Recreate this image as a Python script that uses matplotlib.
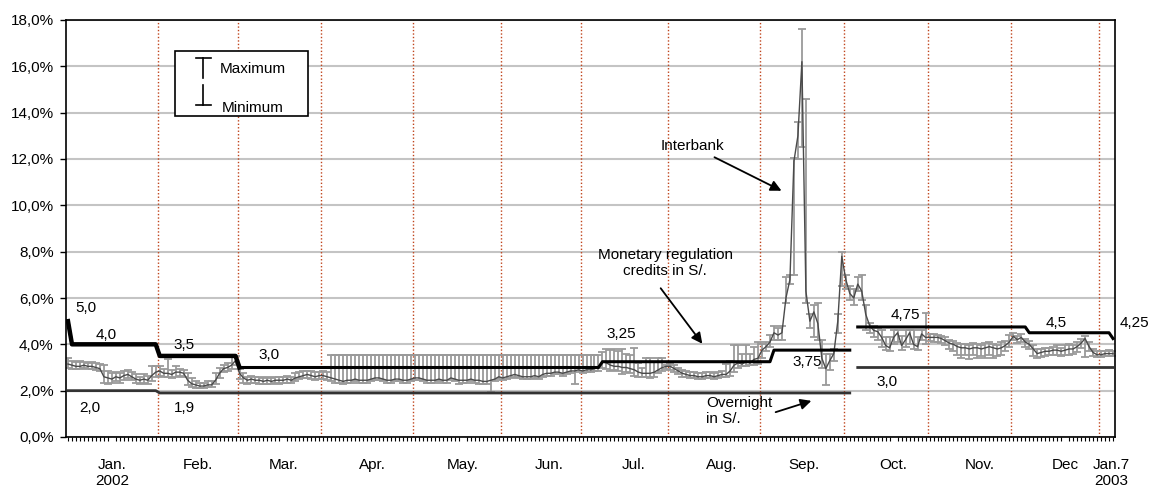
import numpy as np
import matplotlib

matplotlib.use("Agg")
import matplotlib.pyplot as plt
from matplotlib.patches import Rectangle
from matplotlib.lines import Line2D

plt.rcParams["font.family"] = ["Liberation Sans", "DejaVu Sans"]

# Interbank rate, daily: mean / maximum / minimum (%), one list per month
jan_mean = [3.15, 3.10, 3.05, 3.05, 3.10, 3.05, 3.05, 3.00, 2.95, 2.60, 2.55, 2.50, 2.60, 2.55, 2.65,
            2.70, 2.60, 2.50, 2.45, 2.50, 2.45, 2.65, 2.80]
jan_max = [3.40, 3.30, 3.25, 3.30, 3.25, 3.20, 3.25, 3.20, 3.15, 3.10, 2.85, 2.75, 2.80, 2.75, 2.85,
           2.90, 2.80, 2.70, 2.60, 2.70, 2.65, 3.05, 3.05]
jan_min = [3.00, 2.95, 2.95, 2.95, 3.00, 2.95, 2.95, 2.90, 2.85, 2.35, 2.30, 2.35, 2.40, 2.35, 2.45,
           2.55, 2.45, 2.35, 2.30, 2.35, 2.30, 2.40, 2.60]

feb_mean = [2.85, 2.75, 2.75, 2.70, 2.80, 2.80, 2.75, 2.45, 2.30, 2.25,
            2.20, 2.20, 2.25, 2.25, 2.45, 2.75, 2.95, 3.00, 3.10, 3.30]
feb_max = [3.05, 2.95, 3.35, 2.90, 3.05, 2.95, 2.90, 2.75, 2.55, 2.40,
           2.35, 2.35, 2.40, 2.40, 2.75, 3.00, 3.10, 3.20, 3.45, 3.50]
feb_min = [2.65, 2.60, 2.60, 2.55, 2.60, 2.65, 2.60, 2.25, 2.15, 2.10,
           2.10, 2.10, 2.15, 2.15, 2.30, 2.55, 2.80, 2.85, 2.95, 3.10]

mar_mean = [2.75, 2.55, 2.45, 2.50, 2.45, 2.45, 2.40, 2.45, 2.40, 2.45,
            2.45, 2.45, 2.50, 2.45, 2.55, 2.60, 2.65, 2.70, 2.65, 2.60, 2.65]
mar_max = [2.95, 2.75, 2.60, 2.65, 2.60, 2.60, 2.55, 2.60, 2.55, 2.60,
           2.60, 2.60, 2.65, 2.60, 2.75, 2.80, 2.85, 2.85, 2.85, 2.80, 2.80]
mar_min = [2.50, 2.35, 2.30, 2.35, 2.35, 2.30, 2.30, 2.30, 2.30, 2.35,
           2.30, 2.35, 2.35, 2.35, 2.40, 2.50, 2.55, 2.55, 2.50, 2.45, 2.50]

apr_mean = [2.65, 2.60, 2.55, 2.50, 2.45, 2.40, 2.45, 2.45, 2.50, 2.45,
            2.45, 2.45, 2.50, 2.55, 2.55, 2.50, 2.45, 2.45, 2.50, 2.50, 2.45, 2.45, 2.50]
apr_max = [2.85, 2.80, 3.55, 3.55, 3.55, 3.55, 3.55, 3.55, 3.55, 3.55,
           3.55, 3.55, 3.55, 3.55, 3.55, 3.55, 3.55, 3.55, 3.55, 3.55, 3.55, 3.55, 3.55]
apr_min = [2.50, 2.45, 2.40, 2.35, 2.35, 2.30, 2.35, 2.35, 2.40, 2.35,
           2.35, 2.35, 2.40, 2.45, 2.45, 2.40, 2.35, 2.35, 2.40, 2.40, 2.35, 2.35, 2.40]

may_mean = [2.55, 2.55, 2.50, 2.45, 2.45, 2.45, 2.50, 2.45, 2.45, 2.55,
            2.50, 2.45, 2.45, 2.45, 2.50, 2.45, 2.45, 2.40, 2.40, 2.45, 2.50, 2.60]
may_max = [3.55, 3.55, 3.55, 3.55, 3.55, 3.55, 3.55, 3.55, 3.55, 3.55,
           3.55, 3.55, 3.55, 3.55, 3.55, 3.55, 3.55, 3.55, 3.55, 3.55, 3.55, 3.55]
may_min = [2.45, 2.45, 2.40, 2.35, 2.35, 2.35, 2.40, 2.35, 2.35, 2.45,
           2.40, 2.30, 2.35, 2.35, 2.40, 2.35, 2.30, 2.30, 2.30, 1.95, 2.40, 2.50]

jun_mean = [2.55, 2.60, 2.65, 2.70, 2.65, 2.60, 2.60, 2.60, 2.65, 2.60,
            2.70, 2.75, 2.75, 2.80, 2.80, 2.75, 2.80, 2.85, 2.85, 2.90]
jun_max = [3.55, 3.55, 3.55, 3.55, 3.55, 3.55, 3.55, 3.55, 3.55, 3.55,
           3.55, 3.55, 3.55, 3.55, 3.55, 3.55, 3.55, 3.55, 3.55, 3.55]
jun_min = [2.45, 2.50, 2.55, 2.60, 2.55, 2.50, 2.50, 2.50, 2.55, 2.50,
           2.60, 2.65, 2.65, 2.70, 2.70, 2.65, 2.70, 2.75, 2.30, 2.80]

jul_mean = [2.85, 2.90, 2.90, 2.95, 3.00, 3.25, 3.20, 3.10, 3.05, 3.05,
            3.00, 3.00, 2.95, 2.90, 2.80, 2.75, 2.75, 2.75, 2.80, 2.90, 3.00, 3.05]
jul_max = [3.55, 3.55, 3.55, 3.55, 3.55, 3.65, 3.80, 3.75, 3.80, 3.70,
           3.80, 3.60, 3.55, 3.85, 3.20, 3.00, 3.40, 3.40, 3.25, 3.40, 3.40, 3.10]
jul_min = [2.75, 2.80, 2.80, 2.85, 2.85, 3.00, 2.95, 2.85, 2.90, 2.85,
           2.70, 2.80, 2.75, 2.65, 2.60, 2.60, 2.60, 2.55, 2.60, 2.75, 2.85, 2.95]

aug_mean = [3.05, 2.95, 2.85, 2.75, 2.70, 2.65, 2.65, 2.60, 2.60, 2.65,
            2.65, 2.60, 2.65, 2.70, 2.70, 2.85, 3.10, 3.20, 3.15, 3.25, 3.20, 3.35, 3.40]
aug_max = [3.20, 3.10, 3.00, 2.90, 2.85, 2.80, 2.80, 2.75, 2.75, 2.80,
           2.80, 2.75, 2.80, 2.85, 3.15, 3.30, 3.95, 3.95, 3.60, 3.95, 3.60, 3.90, 4.10]
aug_min = [2.90, 2.80, 2.70, 2.60, 2.60, 2.55, 2.55, 2.50, 2.50, 2.55,
           2.55, 2.50, 2.55, 2.60, 2.60, 2.65, 2.80, 3.00, 3.05, 3.05, 3.10, 3.10, 3.15]

sep_mean = [3.75, 3.90, 4.10, 4.50, 4.40, 4.50, 6.00, 6.80, 11.90, 13.00,
            16.20, 6.30, 5.00, 5.40, 4.90, 3.40, 2.95, 3.30, 3.60, 5.00, 7.80]
sep_max = [4.00, 4.10, 4.40, 4.80, 4.70, 4.80, 6.90, 7.00, 12.05, 13.60,
           17.60, 14.60, 5.30, 5.70, 5.80, 4.20, 3.60, 3.60, 3.80, 5.30, 8.00]
sep_min = [3.40, 3.70, 3.90, 4.20, 4.20, 4.20, 5.80, 6.60, 7.00, 12.00,
           12.50, 5.80, 4.70, 4.30, 4.20, 3.00, 2.25, 2.90, 3.30, 4.50, 6.50]

oct_mean = [6.80, 6.20, 6.00, 6.60, 6.30, 5.30, 4.80, 4.60, 4.55, 4.30,
            3.95, 3.85, 4.30, 4.50, 3.95, 4.20, 4.50, 4.00, 3.90, 4.45, 4.30]
oct_max = [7.00, 6.50, 6.40, 6.90, 7.00, 5.70, 4.90, 4.80, 4.70, 4.60,
           4.30, 4.30, 4.60, 4.60, 4.35, 4.60, 4.60, 4.60, 4.30, 4.60, 5.35]
oct_min = [6.40, 5.90, 5.70, 6.30, 5.90, 4.60, 4.50, 4.30, 4.20, 3.90,
           3.75, 3.70, 4.00, 4.10, 3.75, 3.90, 4.00, 3.80, 3.75, 4.20, 4.00]

nov_mean = [4.30, 4.30, 4.30, 4.25, 4.15, 4.05, 4.00, 3.90, 3.85, 3.85,
            3.80, 3.85, 3.85, 3.80, 3.85, 3.90, 3.85, 3.80, 3.85, 3.95, 4.10]
nov_max = [4.45, 4.45, 4.40, 4.35, 4.30, 4.20, 4.15, 4.05, 4.00, 4.00,
           3.95, 4.05, 4.00, 3.95, 4.05, 4.10, 4.00, 3.95, 4.10, 4.15, 4.40]
nov_min = [4.15, 4.10, 4.10, 4.05, 3.95, 3.80, 3.70, 3.55, 3.40, 3.55,
           3.35, 3.55, 3.40, 3.50, 3.40, 3.55, 3.40, 3.50, 3.55, 3.70, 3.90]

dec_mean = [4.35, 4.20, 4.30, 4.10, 4.00, 3.80, 3.60, 3.65, 3.70, 3.70,
            3.75, 3.75, 3.70, 3.75, 3.80, 3.80, 3.90, 4.05, 4.25, 3.90, 3.65, 3.55]
dec_max = [4.50, 4.35, 4.45, 4.25, 4.15, 3.95, 3.80, 3.80, 3.85, 3.85,
           3.90, 3.95, 3.85, 3.95, 4.00, 3.95, 4.10, 4.25, 4.35, 4.10, 3.80, 3.70]
dec_min = [4.20, 4.05, 4.10, 3.90, 3.80, 3.50, 3.40, 3.45, 3.50, 3.55,
           3.55, 3.55, 3.50, 3.55, 3.55, 3.60, 3.65, 3.85, 3.45, 3.70, 3.50, 3.45]

jan03_mean = [3.55, 3.60, 3.60, 3.60]
jan03_max = [3.70, 3.70, 3.75, 3.70]
jan03_min = [3.45, 3.50, 3.50, 3.50]

month_labels = ["Jan.\n2002", "Feb.", "Mar.", "Apr.", "May.", "Jun.", "Jul.",
                "Aug.", "Sep.", "Oct.", "Nov.", "Dec"]
last_label = "Jan.7\n2003"

# Policy rates (step lines): day index where each level starts
mr_start_day = [0, 1, 23, 43, 134, 177, 198, 241, 262]
mr_level = [5.0, 4.0, 3.5, 3.0, 3.25, 3.75, 4.75, 4.5, 4.25]
ov_start_day = [0, 23, 198]
ov_level = [2.0, 1.9, 3.0]
rate_gap_day = 197

means = [jan_mean, feb_mean, mar_mean, apr_mean, may_mean, jun_mean, jul_mean,
         aug_mean, sep_mean, oct_mean, nov_mean, dec_mean, jan03_mean]
maxs = [jan_max, feb_max, mar_max, apr_max, may_max, jun_max, jul_max,
        aug_max, sep_max, oct_max, nov_max, dec_max, jan03_max]
mins = [jan_min, feb_min, mar_min, apr_min, may_min, jun_min, jul_min,
        aug_min, sep_min, oct_min, nov_min, dec_min, jan03_min]

ib_mean = np.concatenate(means)
ib_max = np.concatenate(maxs)
ib_min = np.concatenate(mins)
n = len(ib_mean)
x = np.arange(n)
bounds = np.cumsum([len(m) for m in means])
starts = np.concatenate([[0], bounds[:-1]])


def step_series(start_days, levels):
    s = np.full(n, np.nan)
    ends = list(start_days[1:]) + [n]
    for a, b, v in zip(start_days, ends, levels):
        s[a:b] = v
    s[rate_gap_day] = np.nan
    return s


mr = step_series(mr_start_day, mr_level)
ov = step_series(ov_start_day, ov_level)

W, H = 1150, 486
fig = plt.figure(figsize=(W / 100, H / 100), dpi=100)
ax = fig.add_axes([66 / W, 1 - 437 / H, (1115 - 66) / W, (437 - 20) / H])


def fx(px):
    return px / W


def fy(py):
    return 1 - py / H


ax.set_xlim(-0.5, n - 0.5)
ax.set_ylim(0, 18)
ax.set_yticks(np.arange(0, 19, 2))
ax.set_yticklabels([f"{v:.1f}%".replace(".", ",") for v in np.arange(0, 19, 2)])
ax.grid(axis="y", color="#c4c4c4", lw=1.5, zorder=0)
ax.set_axisbelow(True)

for b in bounds[:-1]:
    ax.axvline(b - 0.5, color="#c0441c", ls=(0, (1, 1.5)), lw=1.0, zorder=1)

# interbank min-max bars and mean
lo = np.clip(ib_mean - ib_min, 0, None)
hi = np.clip(ib_max - ib_mean, 0, None)
ax.errorbar(x, ib_mean, yerr=[lo, hi], fmt="none", ecolor="#9a9a9a",
            elinewidth=1.3, capsize=3, capthick=1.3, zorder=2)
ax.plot(x, ib_mean, color="#4a4a4a", lw=1.0, zorder=3)

# policy rates
ax.plot(x, ov, color="#333333", lw=2.0, zorder=4)
ax.plot(x, mr, color="black", lw=2.2, zorder=5)
thick = np.where(x < 44, mr, np.nan)
ax.plot(x, thick, color="black", lw=3.2, zorder=5)

for side in ["left", "bottom", "right", "top"]:
    ax.spines[side].set_color("black")
    ax.spines[side].set_linewidth(1.2)

# month labels sit a little right of each month's centre in the original
label_shift = [0, 0, 1, 1.3, 1.5, 2.2, 2.4, 1.8, 0.5, 2.0, 2.5, 2.5]
centers = (starts[:-1] + bounds[:-1] - 1) / 2 + np.array(label_shift)
ax.set_xticks(list(centers) + [n - 1.5])
ax.set_xticklabels(month_labels + [last_label], fontsize=11)
ax.set_xticks(x, minor=True)
ax.tick_params(axis="x", which="major", length=0, pad=15)
ax.tick_params(axis="x", which="minor", length=3, width=0.8, direction="out")
ax.tick_params(axis="y", length=4, width=1, direction="out", pad=5, labelsize=11)

# legend box
fig.patches.append(Rectangle((fx(175), fy(116)), fx(308) - fx(175), fy(51) - fy(116),
                             transform=fig.transFigure, fill=True, facecolor="white",
                             edgecolor="black", lw=1.2, zorder=10))
for seg in [((203, 58), (203, 78)), ((196, 58), (211, 58)),
            ((203, 85), (203, 105)), ((196, 105), (211, 105))]:
    fig.lines.append(Line2D([fx(seg[0][0]), fx(seg[1][0])], [fy(seg[0][1]), fy(seg[1][1])],
                            transform=fig.transFigure, color="black", lw=1.2, zorder=11))
fig.text(fx(220), fy(69), "Maximum", fontsize=11, va="center", zorder=12)
fig.text(fx(222), fy(108), "Minimum", fontsize=11, va="center", zorder=12)

# annotations
fig.text(fx(692), fy(146), "Interbank", fontsize=11, ha="center", va="center")
fig.text(fx(665), fy(263), "Monetary regulation\ncredits in S/.", fontsize=11,
         ha="center", va="center", linespacing=1.25)
fig.text(fx(706), fy(411), "Overnight\nin S/.", fontsize=11, ha="left", va="center",
         linespacing=1.2)

arrow = dict(arrowstyle="-|>", color="black", lw=1.3, mutation_scale=16)
ax.annotate("", xy=(fx(784), fy(192)), xytext=(fx(712), fy(156)),
            xycoords="figure fraction", textcoords="figure fraction", arrowprops=arrow)
ax.annotate("", xy=(fx(704), fy(346)), xytext=(fx(659), fy(286)),
            xycoords="figure fraction", textcoords="figure fraction", arrowprops=arrow)
ax.annotate("", xy=(fx(814), fy(400)), xytext=(fx(773), fy(413)),
            xycoords="figure fraction", textcoords="figure fraction", arrowprops=arrow)

# rate value labels
rate_texts = [("5,0", 86, 308), ("4,0", 106, 335), ("3,5", 184, 345), ("3,0", 269, 355),
              ("2,0", 90, 408), ("1,9", 184, 408), ("3,25", 621, 334), ("3,75", 807, 362),
              ("4,75", 905, 315), ("4,5", 1056, 323), ("4,25", 1134, 323), ("3,0", 887, 382)]
for s, px, py in rate_texts:
    fig.text(fx(px), fy(py), s, fontsize=11, ha="center", va="center")

fig.savefig("out.png", dpi=100)
